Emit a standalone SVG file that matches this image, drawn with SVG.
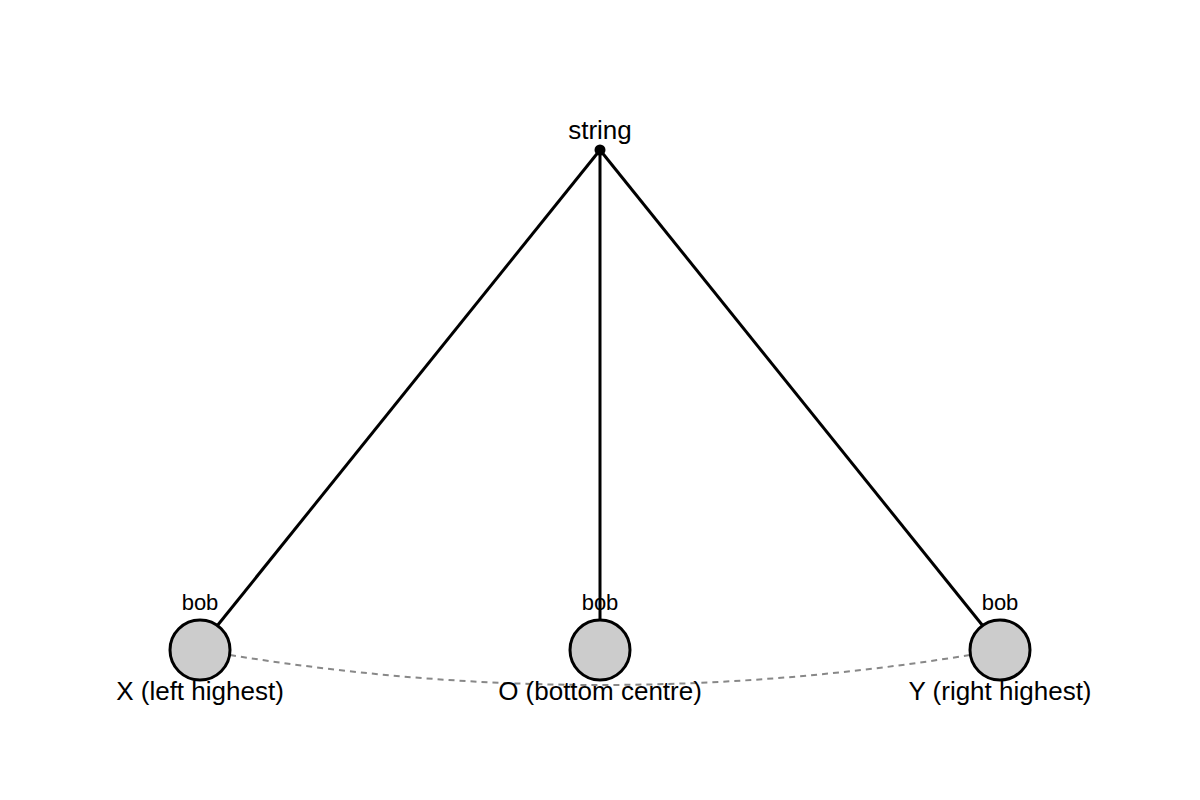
<svg xmlns="http://www.w3.org/2000/svg" width="1200" height="800" viewBox="0 0 1200 800">
<style>
text{font-family:"Liberation Sans",Arial,sans-serif;fill:#000;text-anchor:middle}
.str{stroke:#000;stroke-width:3;fill:none}
.bob{fill:#cccccc;stroke:#000;stroke-width:3}
.lbl{font-size:26px}
.b{font-size:22px}
</style>
<rect width="1200" height="800" fill="#fff"/>
<g id="connectors">
<path d="M230,655 Q600,715 970,655" fill="none" stroke="#888" stroke-width="2" stroke-dasharray="6,5"/>
<line class="str" x1="600" y1="150" x2="217" y2="626"/>
<line class="str" x1="600" y1="150" x2="600" y2="620"/>
<line class="str" x1="600" y1="150" x2="983" y2="626"/>
</g>
<g id="pivot"><circle cx="600" cy="150" r="5.5" fill="#000"/><text class="lbl" x="600" y="139">string</text></g>
<g id="bobX"><circle class="bob" cx="200" cy="650" r="30"/><text class="b" x="200" y="610">bob</text><text class="lbl" x="200" y="700">X (left highest)</text></g>
<g id="bobO"><circle class="bob" cx="600" cy="650" r="30"/><text class="b" x="600" y="610">bob</text><text class="lbl" x="600" y="700">O (bottom centre)</text></g>
<g id="bobY"><circle class="bob" cx="1000" cy="650" r="30"/><text class="b" x="1000" y="610">bob</text><text class="lbl" x="1000" y="700">Y (right highest)</text></g>
</svg>
